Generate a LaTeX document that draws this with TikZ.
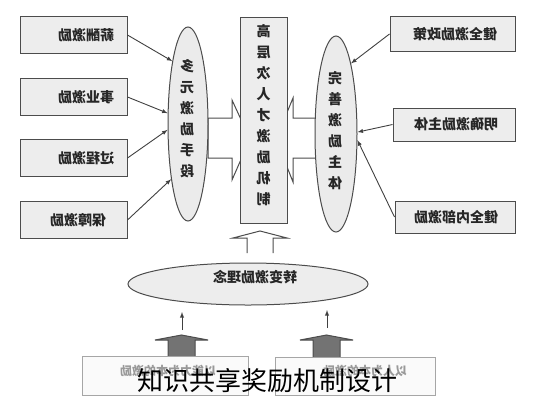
\documentclass[tikz,border=0pt]{standalone}
\usepackage{graphicx}
\usepackage{fontspec}
\setmainfont{Noto Sans CJK SC}
\usetikzlibrary{shapes.geometric}
\newcommand{\mirror}[1]{\reflectbox{#1}}
\newcommand{\mircol}[1]{\reflectbox{\begin{tabular}{@{}c@{}}#1\end{tabular}}}
\begin{document}
\begin{tikzpicture}[x=1pt,y=-1pt,
  box/.style={draw=black!70,fill=black!7,line width=1pt,inner sep=0pt},
  oval/.style={ellipse,draw=black!70,fill=black!8,line width=1pt,inner sep=0pt},
  lbl/.style={font=\fontsize{14}{21}\selectfont\bfseries,text=black!85,inner sep=0pt},
  pale/.style={font=\fontsize{12}{14}\selectfont\bfseries,text=black!40,inner sep=0pt},
  link/.style={-latex,line width=0.9pt,draw=black!75},
  hollow/.style={draw=black!70,fill=white,line width=1pt},
  solid/.style={draw=black!70,fill=black!55,line width=1pt}]
\useasboundingbox (0,0) rectangle (533,400);
% block arrows into the centre box
\draw[hollow] (208,118)--(232,118)--(232,100)--(250,139)--(232,180)--(232,158)--(208,158)--cycle;
\draw[hollow] (317,118)--(293,118)--(293,98)--(276,139)--(293,182)--(293,158)--(317,158)--cycle;
% centre
\node[box,minimum width=47,minimum height=206] (cbox) at (263.5,120) {};
\node[lbl] (ctext) at (263.5,116) {\mircol{高\\层\\次\\人\\才\\激\\励\\机\\制}};
\node[oval,minimum width=40,minimum height=194] (lell) at (188,124) {};
\node[lbl] (ltext) at (187,120) {\mircol{多\\元\\激\\励\\手\\段}};
\node[oval,minimum width=42,minimum height=196] (rell) at (336,134) {};
\node[lbl] (rtext) at (335,132) {\mircol{完\\善\\激\\励\\主\\体}};
% left boxes
\foreach \i/\y/\t/\tx in {1/35/薪酬激励/86,2/97/事业激励/86,3/158/过程激励/86,4/220/保障激励/78}{
  \node[box,minimum width=107,minimum height=37] (lb\i) at (73.5,\y) {};
  \node[lbl] (lt\i) at (\tx,\y) {\mirror{\t}};
}
\foreach \i/\a in {1/104,2/152,3/196,4/253}
  \draw[link] (lb\i.east) -- (lell.\a);
% right boxes
\node[box,minimum width=125,minimum height=35] (rb1) at (452.5,34) {};
\node[lbl] (rt1) at (455,34) {\mirror{健全激励政策}};
\node[box,minimum width=122,minimum height=33] (rb2) at (454,124.5) {};
\node[lbl] (rt2) at (456,124.5) {\mirror{明确激励主体}};
\node[box,minimum width=120,minimum height=32] (rb3) at (455,217) {};
\node[lbl] (rt3) at (456,217) {\mirror{健全内部激励}};
\draw[link] (rb1.west) -- (rell.78);
\draw[link] (rb2.west) -- (rell.5);
\draw[link] (rb3.west) -- (rell.-16);
% bottom part
\draw[hollow] (247,253)--(247,238)--(233,238)--(260,231)--(287,238)--(273,238)--(273,253);
\node[oval,fill=black!7,minimum width=240,minimum height=42] (bell) at (248,284) {};
\node[lbl] (btext) at (255,277) {\mirror{转变激励理念}};
\draw[solid] (168,357)--(168,340)--(155,340)--(181.5,335)--(208,340)--(195,340)--(195,357);
\draw[solid] (313,357)--(313,340)--(300,340)--(326.5,335)--(353,340)--(340,340)--(340,357);
\coordinate (up1) at (182,330);
\coordinate (up2) at (327,328);
\draw[link,-latex] (up1) -- ++(0,-18);
\draw[link,-latex] (up2) -- ++(0,-18);
\node[draw=black!35,fill=black!2,line width=1pt,minimum width=166,minimum height=39] (bl) at (165,376) {};
\node[pale] (blt) at (168,371) {\mirror{以能力为本的激励}};
\node[draw=black!35,fill=black!2,line width=1pt,minimum width=160,minimum height=38] (br) at (355,376) {};
\node[pale] (brt) at (365,371) {\mirror{以人为本的激励}};
\node[font=\fontsize{26}{28}\selectfont,inner sep=0pt] (caption) at (267,381) {知识共享奖励机制设计};
\end{tikzpicture}
\end{document}
